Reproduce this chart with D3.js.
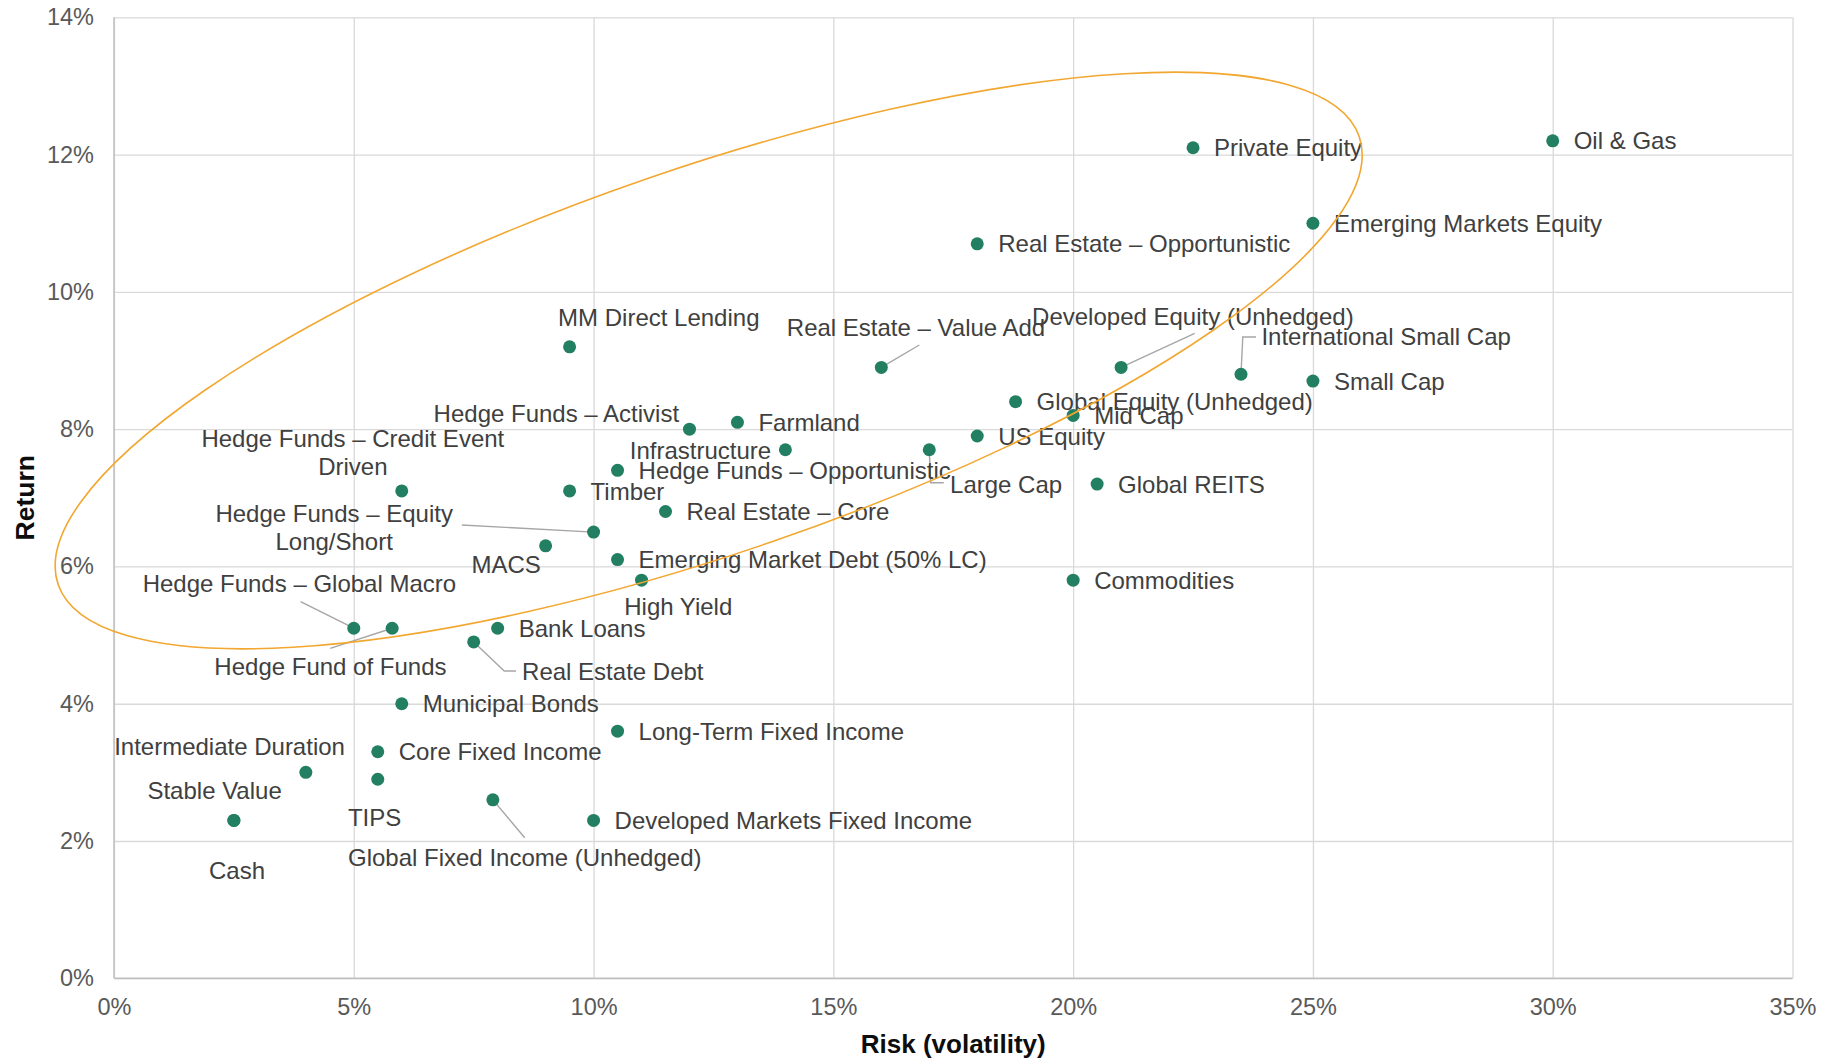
<!DOCTYPE html>
<html>
<head>
<meta charset="utf-8">
<script src="https://cdn.jsdelivr.net/npm/d3@7"></script>
<style>
  html, body { margin: 0; padding: 0; background: #ffffff; }
  svg { display: block; font-family: "Liberation Sans", Arial, Helvetica, sans-serif; }
</style>
</head>
<body>
<svg id="chart" width="1835" height="1059"></svg>
<script>
// ---- Data: expected risk (volatility, %) and return (%) per asset class ----
const assetClasses = [
  "Oil & Gas", "Private Equity", "Emerging Markets Equity", "Real Estate \u2013 Opportunistic",
  "MM Direct Lending", "Real Estate \u2013 Value Add", "Developed Equity (Unhedged)",
  "International Small Cap", "Small Cap", "Global Equity (Unhedged)", "Mid Cap",
  "Hedge Funds \u2013 Activist", "Farmland", "US Equity", "Infrastructure", "Large Cap",
  "Hedge Funds \u2013 Opportunistic", "Global REITS", "Hedge Funds \u2013 Credit Event Driven",
  "Timber", "Real Estate \u2013 Core", "Hedge Funds \u2013 Equity Long/Short", "MACS",
  "Emerging Market Debt (50% LC)", "High Yield", "Commodities", "Hedge Funds \u2013 Global Macro",
  "Hedge Fund of Funds", "Bank Loans", "Real Estate Debt", "Municipal Bonds",
  "Long-Term Fixed Income", "Core Fixed Income", "Intermediate Duration", "TIPS",
  "Global Fixed Income (Unhedged)", "Developed Markets Fixed Income", "Stable Value", "Cash"
];
const riskValues = [
  30, 22.5, 25, 18,
  9.5, 16, 21,
  23.5, 25, 18.8, 20,
  12, 13, 18, 14, 17,
  10.5, 20.5, 6,
  9.5, 11.5, 10, 9,
  10.5, 11, 20, 5,
  5.8, 8, 7.5, 6,
  10.5, 5.5, 4, 5.5,
  7.9, 10, 2.5, 2.5
];
const returnValues = [
  12.2, 12.1, 11.0, 10.7,
  9.2, 8.9, 8.9,
  8.8, 8.7, 8.4, 8.2,
  8.0, 8.1, 7.9, 7.7, 7.7,
  7.4, 7.2, 7.1,
  7.1, 6.8, 6.5, 6.3,
  6.1, 5.8, 5.8, 5.1,
  5.1, 5.1, 4.9, 4.0,
  3.6, 3.3, 3.0, 2.9,
  2.6, 2.3, 2.3, 2.3
];
const xTickValues = [0, 5, 10, 15, 20, 25, 30, 35];
const yTickValues = [0, 2, 4, 6, 8, 10, 12, 14];
const xTitle = "Risk (volatility)";
const yTitle = "Return";

// Highlighted region (centre in data units)
const highlightCentre = { risk: 12.4, ret: 9.0 };

// ---- Label placement (pixel offsets from each marker; default is to the right) ----
const labelLayout = {
  "MM Direct Lending":            { anchor: "start",  dx: -11.5, dy: -29.3 },
  "Real Estate \u2013 Value Add":   { anchor: "start",  dx: -94.5, dy: -40.4, leader: [[0, 0], [38, -22.4]] },
  "Developed Equity (Unhedged)":  { anchor: "start",  dx: -89,   dy: -51,   leader: [[0, 0], [73.6, -34.1]] },
  "International Small Cap":      { anchor: "start",  dx: 20.4,  dy: -37.5, leader: [[0, 0], [1.8, -37.2], [15, -37.2]] },
  "Large Cap":                    { anchor: "start",  dx: 20.8,  dy: 35,    leader: [[0, 0], [1.4, 33], [14.5, 33]] },
  "Infrastructure":               { anchor: "end",    dx: -14.2, dy: 1 },
  "Hedge Funds \u2013 Activist":    { anchor: "end",    dx: -10.4, dy: -15.9 },
  "Hedge Funds \u2013 Credit Event Driven": { anchor: "middle", dx: -48.9, dy: -53, breakAfter: 5 },
  "Hedge Funds \u2013 Equity Long/Short":   { anchor: "middle", dx: -259.4, dy: -19.1, breakAfter: 4, leader: [[0, 0], [-131.7, -7.1]] },
  "MACS":                         { anchor: "end",    dx: -4.8,  dy: 18.6 },
  "High Yield":                   { anchor: "start",  dx: -17.3, dy: 26 },
  "Hedge Funds \u2013 Global Macro": { anchor: "middle", dx: -54.4, dy: -44.9, leader: [[0, 0], [-53.2, -26.5]] },
  "Hedge Fund of Funds":          { anchor: "middle", dx: -61.7, dy: 38.1,  leader: [[0, 0], [-61.9, 20.1]] },
  "Real Estate Debt":             { anchor: "start",  dx: 48.4,  dy: 29.4,  leader: [[0, 0], [30.6, 29.1], [42.4, 29.1]] },
  "Intermediate Duration":        { anchor: "middle", dx: -76.3, dy: -26.4 },
  "Stable Value":                 { anchor: "middle", dx: -19.3, dy: -29.9 },
  "Cash":                         { anchor: "middle", dx: 3.1,   dy: 50.4 },
  "TIPS":                         { anchor: "middle", dx: -3.2,  dy: 38.6 },
  "Global Fixed Income (Unhedged)": { anchor: "middle", dx: 31.9, dy: 57.4, leader: [[0, 0], [31.9, 37.9]] }
};
const defaultLabel = { anchor: "start", dx: 21, dy: 0 };

// ---- Chart ----
const svg = d3.select("#chart");
const plot = { left: 114, right: 1792.5, top: 17.3, bottom: 978.3 };
const iw = plot.right - plot.left, ih = plot.bottom - plot.top;

const x = d3.scaleLinear().domain([0, 35]).range([0, iw]);
const y = d3.scaleLinear().domain([0, 14]).range([ih, 0]);

const g = svg.append("g").attr("transform", `translate(${plot.left},${plot.top})`);

const points = assetClasses.map((name, i) => ({ name, risk: riskValues[i], ret: returnValues[i] }));

// Gridlines and tick labels
const gx = g.append("g")
  .attr("transform", `translate(0,${ih})`)
  .call(d3.axisBottom(x).tickValues(xTickValues).tickSize(-ih).tickSizeOuter(0)
    .tickPadding(20).tickFormat(d => d + "%"));
const gy = g.append("g")
  .call(d3.axisLeft(y).tickValues(yTickValues).tickSize(-iw).tickSizeOuter(0)
    .tickPadding(20).tickFormat(d => d + "%"));

[gx, gy].forEach(ax => {
  ax.attr("font-family", null).attr("font-size", null);
  ax.select(".domain").remove();
  ax.selectAll(".tick line").attr("stroke", "#d9d9d9").attr("stroke-width", 1.3);
  ax.selectAll(".tick text").attr("fill", "#595959").attr("font-size", 23.5);
});

// Axis lines
g.append("line").attr("x1", 0).attr("x2", 0).attr("y1", 0).attr("y2", ih)
  .attr("stroke", "#bfbfbf").attr("stroke-width", 1.5);
g.append("line").attr("x1", 0).attr("x2", iw).attr("y1", ih).attr("y2", ih)
  .attr("stroke", "#bfbfbf").attr("stroke-width", 1.5);

// Leader lines
const lineGen = d3.line();
g.append("g").selectAll("path")
  .data(points.filter(p => labelLayout[p.name] && labelLayout[p.name].leader))
  .join("path")
  .attr("d", p => lineGen(labelLayout[p.name].leader.map(([ox, oy]) => [x(p.risk) + ox, y(p.ret) + oy])))
  .attr("fill", "none")
  .attr("stroke", "#a6a6a6")
  .attr("stroke-width", 1.4);

// Markers
g.append("g").selectAll("circle")
  .data(points)
  .join("circle")
  .attr("cx", p => x(p.risk))
  .attr("cy", p => y(p.ret))
  .attr("r", 6.5)
  .attr("fill", "#237f61");

// Labels
const fontSize = 24;
const lineHeight = 28;
const labels = g.append("g").attr("font-size", fontSize).attr("fill", "#404040");
points.forEach(p => {
  const L = labelLayout[p.name] || defaultLabel;
  const words = p.name.split(" ");
  const lines = L.breakAfter
    ? [words.slice(0, L.breakAfter).join(" "), words.slice(L.breakAfter).join(" ")]
    : [p.name];
  const t = labels.append("text")
    .attr("text-anchor", L.anchor)
    .attr("x", x(p.risk) + L.dx)
    .attr("y", y(p.ret) + L.dy + 0.358 * fontSize);
  lines.forEach((ln, k) => {
    t.append("tspan")
      .attr("x", x(p.risk) + L.dx)
      .attr("dy", k === 0 ? 0 : lineHeight)
      .text(ln);
  });
});

// Highlight ellipse
const ecx = x(highlightCentre.risk), ecy = y(highlightCentre.ret);
g.append("ellipse")
  .attr("cx", ecx).attr("cy", ecy)
  .attr("rx", 688).attr("ry", 192)
  .attr("transform", `rotate(-19,${ecx},${ecy})`)
  .attr("fill", "none")
  .attr("stroke", "#f2a731")
  .attr("stroke-width", 1.6);

// Axis titles
svg.append("text")
  .attr("x", plot.left + iw / 2)
  .attr("y", 1052.5)
  .attr("text-anchor", "middle")
  .attr("font-size", 26)
  .attr("font-weight", "bold")
  .attr("fill", "#0d0d0d")
  .text(xTitle);
svg.append("text")
  .attr("transform", `translate(33.5,${plot.top + ih / 2}) rotate(-90)`)
  .attr("text-anchor", "middle")
  .attr("font-size", 26.5)
  .attr("font-weight", "bold")
  .attr("fill", "#0d0d0d")
  .text(yTitle);
</script>
</body>
</html>
